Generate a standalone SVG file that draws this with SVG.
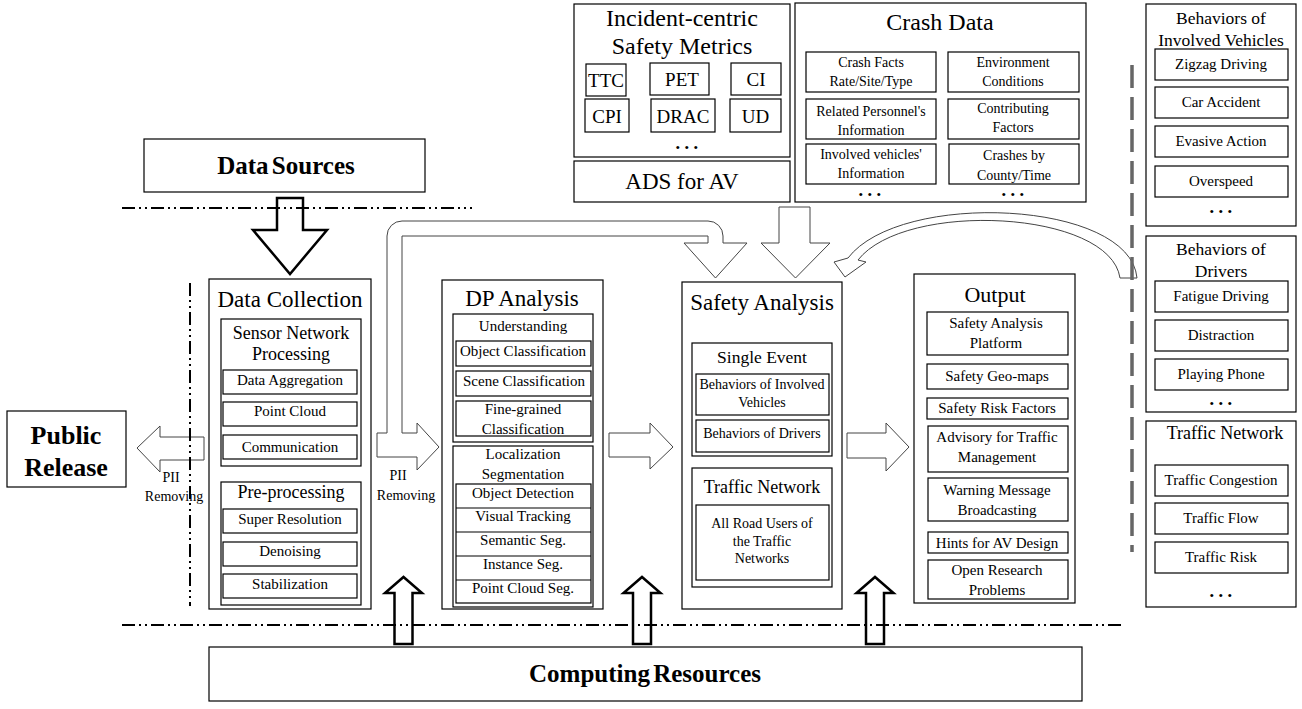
<svg xmlns="http://www.w3.org/2000/svg" width="1302" height="709" viewBox="0 0 1302 709">
<style>
.b{fill:#fff;stroke:#000;stroke-width:1.2}
.n{fill:none;stroke:#000;stroke-width:1.2}
.t{font-family:"Liberation Serif","Times New Roman",serif;fill:#000;text-anchor:middle;dominant-baseline:central}
.s24{font-size:24px}.s23{font-size:23px}.s22{font-size:22px}.s19{font-size:19px}.s18{font-size:18px}.s17{font-size:17.5px}.s15{font-size:15px}.s14{font-size:14px}
.bd{font-weight:bold}
.dots{font-size:13px;letter-spacing:4.5px}
.ga{fill:#fff;stroke:#444;stroke-width:1}
.ka{fill:#fff;stroke:#000;stroke-width:2.5}
.dd{fill:none;stroke:#000;stroke-width:2;stroke-dasharray:13 4 2 4 2 4}
.gd{fill:none;stroke:#666;stroke-width:3.5;stroke-dasharray:23 9}
</style>
<rect width="1302" height="709" fill="#fff"/>

<g id="connectors">
<path class="ka" d="M277 198 H303 V230 H327 L290 274 L253 230 H277 Z"/>
<path class="ga" d="M204 437 H160 V426 L137 448 L160 472 V460 H204 Z"/>
<path class="ga" d="M377 457 V433 H387 V236 A15 15 0 0 1 402 221 H708 A15 15 0 0 1 723 236 V243 H747 L715.5 278 L684 243 H708 V236 H402 V433 H417 V423 L439 447 L417 470 V457 Z"/>
<path class="ga" d="M609 433 H650 V423 L673 447 L650 469 V457 H609 Z"/>
<path class="ga" d="M847 433 H886 V423 L909 447 L886 471 V458 H847 Z"/>
<path class="ga" d="M779 207 H810 V243 H830 L795.5 278 L761 243 H779 Z"/>
<path class="ga" d="M1137 278 C1130 200 900 190 848 258 L834 262 L845 277 L866 262 L858 260 C905 200 1110 210 1120 278 Z"/>
<path class="ka" d="M394.5 644 V593 H385 L403.5 577 L422 593 H412.5 V644 Z"/>
<path class="ka" d="M633 644 V593 H623.5 L642 577 L660.5 593 H651 V644 Z"/>
<path class="ka" d="M866 644 V593 H856.5 L875 577 L893.5 593 H884 V644 Z"/>
<line class="dd" x1="122" y1="208" x2="472" y2="208"/>
<line class="dd" x1="122" y1="625" x2="1122" y2="625"/>
<line class="dd" x1="190" y1="283" x2="190" y2="606"/>
<line class="gd" x1="1132" y1="65" x2="1132" y2="552"/>
</g>

<g id="incident-metrics">
<rect class="b" x="574" y="4" width="216" height="153"/>
<text class="t s24" x="682" y="18">Incident-centric</text>
<text class="t s24" x="682" y="46">Safety Metrics</text>
<rect class="b" x="586" y="64" width="40" height="32"/><text class="t s19" x="606" y="80">TTC</text>
<rect class="b" x="650" y="63" width="59" height="32"/><text class="t s19" x="682" y="79">PET</text>
<rect class="b" x="731" y="63" width="50" height="32"/><text class="t s19" x="756" y="79">CI</text>
<rect class="b" x="585" y="99" width="44" height="33"/><text class="t s19" x="607" y="116">CPI</text>
<rect class="b" x="651" y="99" width="64" height="33"/><text class="t s19" x="683" y="116">DRAC</text>
<rect class="b" x="730" y="99" width="51" height="33"/><text class="t s19" x="755.5" y="116">UD</text>
<text class="t dots" x="689" y="147">•••</text>
</g>

<g id="ads-av">
<rect class="b" x="574" y="161" width="216" height="41"/>
<text class="t s23" x="682" y="181">ADS for AV</text>
</g>

<g id="crash-data">
<rect class="b" x="795" y="3" width="291" height="199"/>
<text class="t s24" x="940" y="22">Crash Data</text>
<rect class="b" x="806" y="52" width="130" height="40"/>
<text class="t s14" x="871" y="62">Crash Facts</text><text class="t s14" x="871" y="81">Rate/Site/Type</text>
<rect class="b" x="948" y="52" width="131" height="40"/>
<text class="t s14" x="1013" y="62">Environment</text><text class="t s14" x="1013" y="81">Conditions</text>
<rect class="b" x="806" y="99" width="130" height="40"/>
<text class="t s14" x="871" y="111">Related Personnel's</text><text class="t s14" x="871" y="130">Information</text>
<rect class="b" x="948" y="99" width="131" height="40"/>
<text class="t s14" x="1013" y="108">Contributing</text><text class="t s14" x="1013" y="127">Factors</text>
<rect class="b" x="806" y="144" width="130" height="40"/>
<text class="t s14" x="871" y="154">Involved  vehicles'</text><text class="t s14" x="871" y="173">Information</text>
<rect class="b" x="949" y="144" width="130" height="40"/>
<text class="t s14" x="1014" y="155">Crashes by</text><text class="t s14" x="1014" y="175">County/Time</text>
<text class="t dots" x="872" y="194">•••</text>
<text class="t dots" x="1015" y="194">•••</text>
</g>

<g id="data-sources">
<rect class="b" x="144" y="139" width="281" height="53"/>
<text class="t bd" x="286" y="165" style="font-size:25px;word-spacing:-3px">Data Sources</text>
</g>

<g id="public-release">
<rect class="b" x="7" y="411" width="119" height="76"/>
<text class="t bd" x="66" y="435" style="font-size:26px">Public</text>
<text class="t bd" x="66" y="467" style="font-size:26px">Release</text>
</g>

<g id="pii-left">
<text class="t s14" x="171" y="477">PII</text>
<text class="t s14" x="174" y="496">Removing</text>
</g>

<g id="pii-right">
<text class="t s14" x="398" y="475">PII</text>
<text class="t s14" x="406" y="495">Removing</text>
</g>

<g id="data-collection">
<rect class="b" x="209" y="279" width="162" height="330"/>
<text class="t s23" x="290" y="299">Data Collection</text>
<rect class="b" x="221" y="319" width="140" height="147"/>
<text class="t s18" x="291" y="333">Sensor Network</text>
<text class="t s18" x="291" y="354">Processing</text>
<rect class="b" x="223" y="370" width="134" height="24"/><text class="t s15" x="290" y="380">Data Aggregation</text>
<rect class="b" x="223" y="402" width="134" height="24"/><text class="t s15" x="290" y="411">Point  Cloud</text>
<rect class="b" x="223" y="435" width="134" height="24"/><text class="t s15" x="290" y="447">Communication</text>
<rect class="b" x="221" y="482" width="140" height="123"/>
<text class="t s18" x="291" y="492">Pre-processing</text>
<rect class="b" x="223" y="509" width="134" height="24"/><text class="t s15" x="290" y="519">Super Resolution</text>
<rect class="b" x="223" y="542" width="134" height="24"/><text class="t s15" x="290" y="551">Denoising</text>
<rect class="b" x="223" y="574" width="134" height="24"/><text class="t s15" x="290" y="584">Stabilization</text>
</g>

<g id="dp-analysis">
<rect class="b" x="442" y="280" width="161" height="329"/>
<text class="t s23" x="522" y="298">DP Analysis</text>
<rect class="b" x="453" y="314" width="140" height="128"/>
<text class="t s15" x="523" y="326">Understanding</text>
<rect class="b" x="456" y="341" width="135" height="25"/><text class="t s15" x="523" y="351">Object Classification</text>
<rect class="b" x="456" y="371" width="135" height="25"/><text class="t s15" x="524" y="381">Scene Classification</text>
<rect class="b" x="456" y="401" width="135" height="35"/>
<text class="t s15" x="523" y="409">Fine-grained</text><text class="t s15" x="523" y="429">Classification</text>
<rect class="b" x="453" y="446" width="140" height="161"/>
<text class="t s15" x="523" y="454">Localization</text>
<text class="t s15" x="523" y="474">Segmentation</text>
<rect class="b" x="456" y="484" width="135" height="119"/>
<path class="n" d="M456 508 H591 M456 532 H591 M456 556 H591 M456 580 H591"/>
<text class="t s15" x="523" y="493">Object Detection</text>
<text class="t s15" x="523" y="516">Visual Tracking</text>
<text class="t s15" x="523" y="540">Semantic Seg.</text>
<text class="t s15" x="523" y="564">Instance Seg.</text>
<text class="t s15" x="523" y="588">Point Cloud  Seg.</text>
</g>

<g id="safety-analysis">
<rect class="b" x="682" y="282" width="160" height="327"/>
<text class="t s23" x="762" y="302">Safety Analysis</text>
<rect class="b" x="692" y="343" width="140" height="113"/>
<text class="t s17" x="762" y="357">Single  Event</text>
<rect class="b" x="696" y="374" width="133" height="41"/>
<text class="t s14" x="762" y="384">Behaviors of Involved</text><text class="t s14" x="762" y="402">Vehicles</text>
<rect class="b" x="696" y="420" width="133" height="32"/>
<text class="t s14" x="762" y="433">Behaviors of Drivers</text>
<rect class="b" x="692" y="468" width="140" height="119"/>
<text class="t s18" x="762" y="487">Traffic Network</text>
<rect class="b" x="696" y="505" width="133" height="75"/>
<text class="t s14" x="762" y="523">All Road Users of</text>
<text class="t s14" x="762" y="541">the Traffic</text>
<text class="t s14" x="762" y="558">Networks</text>
</g>

<g id="output">
<rect class="b" x="914" y="274" width="161" height="329"/>
<text class="t s22" x="995" y="294">Output</text>
<rect class="b" x="927" y="312" width="141" height="43"/>
<text class="t s15" x="996" y="323">Safety  Analysis</text><text class="t s15" x="996" y="343">Platform</text>
<rect class="b" x="927" y="364" width="141" height="25"/><text class="t s15" x="997" y="376">Safety  Geo-maps</text>
<rect class="b" x="927" y="398" width="141" height="21"/><text class="t s15" x="997" y="408">Safety  Risk Factors</text>
<rect class="b" x="928" y="426" width="140" height="46"/>
<text class="t s15" x="997" y="437">Advisory  for  Traffic</text><text class="t s15" x="997" y="457">Management</text>
<rect class="b" x="928" y="478" width="140" height="43"/>
<text class="t s15" x="997" y="490">Warning  Message</text><text class="t s15" x="997" y="510">Broadcasting</text>
<rect class="b" x="928" y="532" width="140" height="21"/><text class="t s15" x="997" y="543">Hints  for AV Design</text>
<rect class="b" x="928" y="560" width="140" height="39"/>
<text class="t s15" x="997" y="570">Open Research</text><text class="t s15" x="997" y="590">Problems</text>
</g>

<g id="computing-resources">
<rect class="b" x="209" y="647" width="873" height="54"/>
<text class="t bd" x="645" y="673" style="font-size:25px;word-spacing:-3px">Computing Resources</text>
</g>

<g id="behaviors-vehicles">
<rect class="b" x="1146" y="4" width="150" height="222"/>
<text class="t s17" x="1221" y="18">Behaviors of</text>
<text class="t s17" x="1221" y="40">Involved Vehicles</text>
<rect class="b" x="1155" y="49" width="133" height="31"/><text class="t s15" x="1221" y="64">Zigzag  Driving</text>
<rect class="b" x="1155" y="87" width="133" height="31"/><text class="t s15" x="1221" y="102">Car Accident</text>
<rect class="b" x="1155" y="126" width="133" height="31"/><text class="t s15" x="1221" y="141">Evasive  Action</text>
<rect class="b" x="1155" y="166" width="133" height="31"/><text class="t s15" x="1221" y="181">Overspeed</text>
<text class="t dots" x="1223" y="211">•••</text>
</g>

<g id="behaviors-drivers">
<rect class="b" x="1146" y="236" width="150" height="176"/>
<text class="t s17" x="1221" y="249">Behaviors of</text>
<text class="t s17" x="1221" y="271">Drivers</text>
<rect class="b" x="1155" y="281" width="133" height="31"/><text class="t s15" x="1221" y="296">Fatigue  Driving</text>
<rect class="b" x="1155" y="320" width="133" height="31"/><text class="t s15" x="1221" y="335">Distraction</text>
<rect class="b" x="1155" y="359" width="133" height="31"/><text class="t s15" x="1221" y="374">Playing  Phone</text>
<text class="t dots" x="1223" y="403">•••</text>
</g>

<g id="traffic-network">
<rect class="b" x="1146" y="421" width="150" height="186"/>
<text class="t s18" x="1225" y="433">Traffic Network</text>
<rect class="b" x="1155" y="465" width="133" height="31"/><text class="t s15" x="1221" y="480">Traffic  Congestion</text>
<rect class="b" x="1155" y="503" width="133" height="31"/><text class="t s15" x="1221" y="518">Traffic  Flow</text>
<rect class="b" x="1155" y="542" width="133" height="31"/><text class="t s15" x="1221" y="557">Traffic  Risk</text>
<text class="t dots" x="1223" y="595">•••</text>
</g>
</svg>
